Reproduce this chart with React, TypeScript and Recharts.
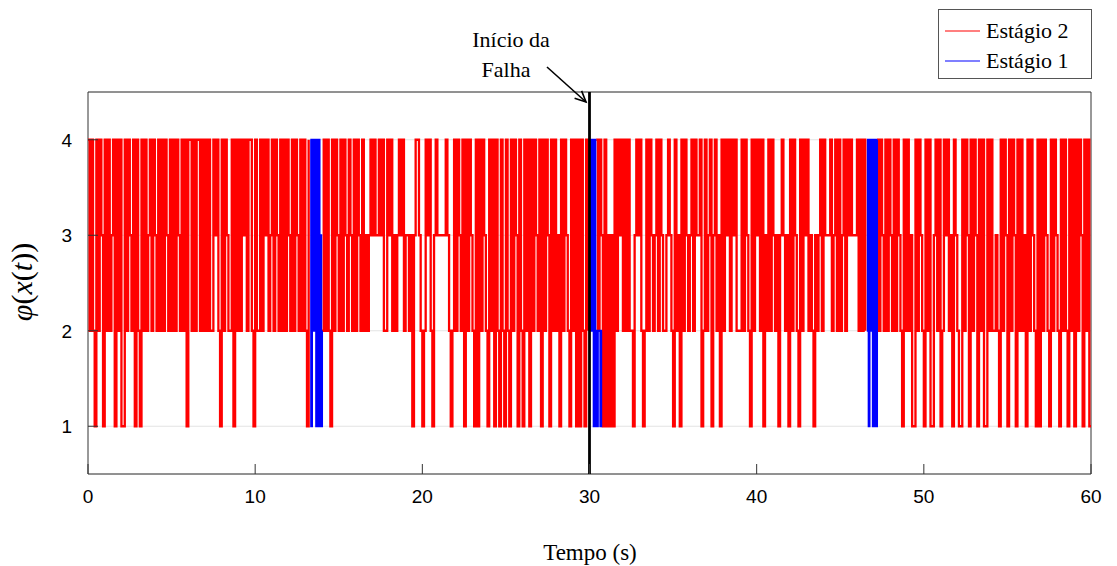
import React from 'react';
import {
  LineChart, Line, XAxis, YAxis, CartesianGrid, ReferenceLine, ReferenceArea, Legend
} from 'recharts';

const SERIF = '"Liberation Serif", "Times New Roman", serif';
const SANS = '"Liberation Sans", Arial, sans-serif';

const X_TICKS = [0, 10, 20, 30, 40, 50, 60];
const Y_TICKS = [1, 2, 3, 4];
const FAULT_TIME = 30;

const STAGE2_NAME = 'Estágio 2';
const STAGE1_NAME = 'Estágio 1';
const STAGE2_COLOR = '#ff0000';
const STAGE1_COLOR = '#0000ff';

// Estágio 2: φ(x(t)) read every 0.1 s, one string per 5 s ('.' = Estágio 1 active)
const STAGE2_STEP = 0.1;
const STAGE2_VALUES = [
  '4242142431' + '4242341424' + '1142432414' + '2142423424' + '3242424324', // 0-5 s
  '2424324241' + '4424244242' + '4242243421' + '4243224142' + '4243424421', // 5-10 s
  '4224243423' + '4243242424' + '3242432424' + '214.......' + '2424214243', // 10-15 s
  '2424324324' + '2432423234' + '3433434224' + '3423234342' + '3323134432', // 15-20 s
  '1243421343' + '3333432124' + '2432414243' + '2141424321' + '4241421421', // 20-25 s
  '4214243142' + '1424142432' + '4142431424' + '2314243214' + '2414142142', // 25-30 s
  '....424314' + '1313142434' + '2424221343' + '4212424323' + '4243223432', // 30-35 s
  '1423142432' + '3424334124' + '2341342314' + '2434243422' + '2424321424', // 35-40 s
  '3424132424' + '3231343231' + '4243214243' + '4232132342' + '4333423424', // 40-45 s
  '2342434333' + '424242....' + '..42432424' + '3242432142' + '4231142432', // 45-50 s
  '1424113424' + '1243423143' + '2114243142' + '4314241142' + '4223214243', // 50-55 s
  '1424314242' + '3142432141' + '4243214243' + '2142421424' + '1424314241', // 55-60 s
];

// Estágio 1: short bursts, read every 0.05 s from each start time
const STAGE1_STEP = 0.05;
const STAGE1_STARTS = [13.3, 30.0, 46.6];
const STAGE1_VALUES = ['414242414141312', '4242414121222122', '4214242141414'];

const stage2Chars = STAGE2_VALUES.join('').split('');
const stage2Data: { t: number; v: number | null }[] = stage2Chars.map((c, i) => ({
  t: +(i * STAGE2_STEP).toFixed(2),
  v: c === '.' ? null : Number(c),
}));
stage2Data.push({ t: 60, v: Number(stage2Chars[stage2Chars.length - 1]) });

const stage1Data: { t: number; v: number | null }[] = [];
STAGE1_STARTS.forEach((start, w) => {
  STAGE1_VALUES[w].split('').forEach((c, i) => {
    stage1Data.push({ t: +(start + i * STAGE1_STEP).toFixed(2), v: Number(c) });
  });
  stage1Data.push({ t: +(start + STAGE1_VALUES[w].length * STAGE1_STEP).toFixed(2), v: null });
});

const LEGEND_ITEMS = [
  { name: STAGE2_NAME, color: STAGE2_COLOR },
  { name: STAGE1_NAME, color: STAGE1_COLOR },
];

const BottomTick = ({ x, y, payload }: any) => (
  <g>
    <line x1={x} x2={x} y1={y} y2={y - 10} stroke="#333" />
    <text x={x} y={y + 29} textAnchor="middle" fontFamily={SANS} fontSize={19} fill="#000">
      {payload.value}
    </text>
  </g>
);

const LeftTick = ({ x, y, payload }: any) => (
  <g>
    <line x1={x} x2={x + 10} y1={y} y2={y} stroke="#333" />
    <text x={x - 16} y={y + 7} textAnchor="end" fontFamily={SANS} fontSize={19} fill="#000">
      {payload.value}
    </text>
  </g>
);

const LegendBox = () => (
  <div
    style={{
      width: 154, height: 70, boxSizing: 'border-box', border: '1px solid #555',
      background: '#fff', padding: '6px 0 0 6px', fontFamily: SERIF, fontSize: 22, color: '#000',
    }}
  >
    {LEGEND_ITEMS.map((item) => (
      <div key={item.name} style={{ display: 'flex', alignItems: 'center', height: 30 }}>
        <svg width={35} height={4} style={{ display: 'block', marginRight: 6 }}>
          <line x1={0} x2={35} y1={2} y2={2} stroke={item.color} strokeWidth={1.2} />
        </svg>
        <span>{item.name}</span>
      </div>
    ))}
  </div>
);

export default function App() {
  return (
    <div style={{ position: 'absolute', left: 0, top: 0, width: 1117, height: 566, background: '#fff' }}>
      <LineChart width={1117} height={566} margin={{ top: 92, right: 26, bottom: 52, left: 28 }}>
        <CartesianGrid vertical={false} stroke="#e3e3e3" />
        <XAxis
          type="number"
          dataKey="t"
          domain={[0, 60]}
          ticks={X_TICKS}
          allowDataOverflow
          axisLine={false}
          tickLine={false}
          tickSize={0}
          tickMargin={0}
          height={40}
          tick={<BottomTick />}
        />
        <YAxis
          type="number"
          domain={[0.5, 4.5]}
          ticks={Y_TICKS}
          allowDataOverflow
          axisLine={false}
          tickLine={false}
          tickSize={0}
          tickMargin={0}
          width={60}
          tick={<LeftTick />}
        />
        <ReferenceArea x1={0} x2={60} y1={0.5} y2={4.5} fill="none" stroke="#333" strokeWidth={1} ifOverflow="visible" />
        <Line
          data={stage2Data}
          dataKey="v"
          name={STAGE2_NAME}
          type="stepAfter"
          stroke={STAGE2_COLOR}
          strokeWidth={2.3}
          dot={false}
          activeDot={false}
          isAnimationActive={false}
        />
        <Line
          data={stage1Data}
          dataKey="v"
          name={STAGE1_NAME}
          type="stepAfter"
          stroke={STAGE1_COLOR}
          strokeWidth={2}
          dot={false}
          activeDot={false}
          isAnimationActive={false}
        />
        <ReferenceLine x={FAULT_TIME} stroke="#000" strokeWidth={2.8} ifOverflow="visible" />
        <Legend
          layout="vertical"
          align="center"
          verticalAlign="middle"
          content={<LegendBox />}
          wrapperStyle={{ left: 938, top: 9, width: 154 }}
        />
      </LineChart>
      <svg width={1117} height={566} style={{ position: 'absolute', left: 0, top: 0, pointerEvents: 'none' }}>
        <text x={511} y={47} textAnchor="middle" fontFamily={SERIF} fontSize={22} fill="#000">Início da</text>
        <text x={506} y={77} textAnchor="middle" fontFamily={SERIF} fontSize={22} fill="#000">Falha</text>
        <g stroke="#000" strokeWidth={1.6} fill="none">
          <line x1={547} y1={67} x2={586} y2={102} />
          <polyline points="574.6,98.2 586,102 581.6,90.9" />
        </g>
        <text
          transform="translate(32,282) rotate(-90)"
          textAnchor="middle"
          fontFamily={SERIF}
          fontSize={30}
          fill="#000"
        >
          <tspan fontStyle="italic">φ</tspan>(<tspan fontStyle="italic">x</tspan>(<tspan fontStyle="italic">t</tspan>))
        </text>
        <text x={590} y={560} textAnchor="middle" fontFamily={SERIF} fontSize={23} fill="#000">Tempo (s)</text>
      </svg>
    </div>
  );
}
